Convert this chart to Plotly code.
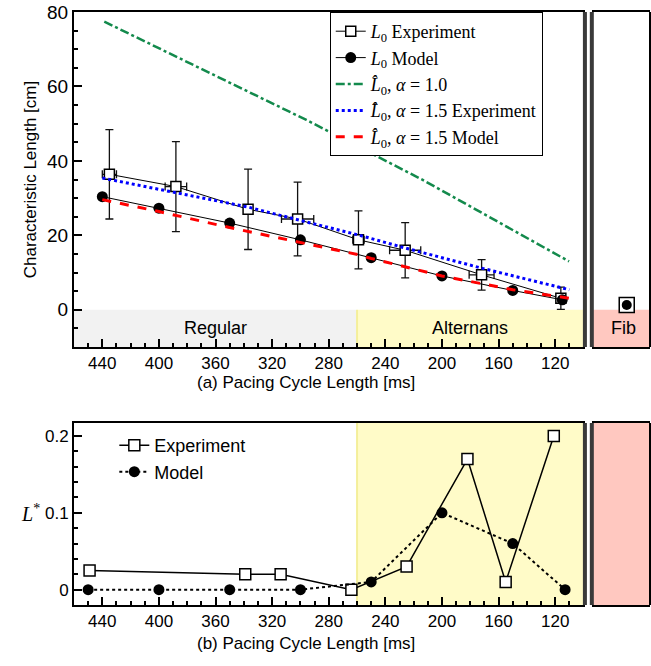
import plotly.graph_objects as go

# top panel: characteristic length vs pacing cycle length
exp_cl = [435, 388, 337, 302, 259, 226, 172, 116]
exp_len = [36.4, 33.1, 27.0, 24.4, 18.8, 16.0, 9.4, 3.1]
exp_len_err = [12.0, 12.1, 10.8, 9.9, 7.8, 7.4, 4.1, 3.0]
exp_cl_err = [5, 7.6, 0, 11.4, 4, 11, 8.8, 0]

mod_cl = [440, 400, 350, 300, 250, 200, 150, 115]
mod_len = [30.4, 27.3, 23.3, 18.8, 14.0, 9.1, 5.2, 2.7]

a10_cl = [438.6, 295.8, 213.6, 110.2]
a10_len = [77.4, 51.0, 34.9, 13.0]

a15e_cl = [440, 388, 337, 302, 259, 226, 172, 110]
a15e_len = [35.4, 31.5, 27.6, 24.2, 20.1, 16.6, 11.2, 5.4]

a15m_cl = [440, 400, 350, 300, 259, 250, 200, 150, 110]
a15m_len = [29.6, 26.4, 22.1, 18.1, 14.8, 13.8, 9.1, 5.4, 3.1]

fib_exp = 1.3
fib_mod = 1.3

# bottom panel: L*
lstar_exp_cl = [449, 339, 314, 264, 225, 182, 155, 121]
lstar_exp = [0.025, 0.02, 0.02, 0.0, 0.03, 0.17, 0.01, 0.2]
lstar_mod_cl = [450, 400, 350, 300, 250, 200, 150, 113]
lstar_mod = [0, 0, 0, 0, 0.01, 0.1, 0.06, 0]

SANS = "Liberation Sans, Arial, sans-serif"
SERIF = "Liberation Serif, Times New Roman, serif"
GRAY_BG = "#f2f2f2"
YELLOW = "#fffbc8"
PINK = "#ffc8c0"
SEP = "#3a3a3a"

fig = go.Figure()

fig.add_trace(go.Scatter(
    x=exp_cl, y=exp_len, mode="lines+markers", name="<i>L</i><sub>0</sub> Experiment",
    line=dict(color="black", width=1),
    marker=dict(symbol="square", size=10, color="white", line=dict(color="black", width=1.5)),
    error_y=dict(type="data", array=exp_len_err, color="#111", thickness=1.3, width=4),
    error_x=dict(type="data", array=exp_cl_err, color="#111", thickness=1.3, width=4),
    xaxis="x", yaxis="y"))
fig.add_trace(go.Scatter(
    x=mod_cl, y=mod_len, mode="lines+markers", name="<i>L</i><sub>0</sub> Model",
    line=dict(color="black", width=1),
    marker=dict(symbol="circle", size=11, color="black"),
    xaxis="x", yaxis="y"))
fig.add_trace(go.Scatter(
    x=a10_cl, y=a10_len, mode="lines", name="<i>L̂</i><sub>0</sub>, <i>α</i> = 1.0",
    line=dict(color="#138a4c", width=2.5, dash="dashdot"), xaxis="x", yaxis="y"))
fig.add_trace(go.Scatter(
    x=a15e_cl, y=a15e_len, mode="lines", name="<i>L̂</i><sub>0</sub>, <i>α</i> = 1.5 Experiment",
    line=dict(color="#0000ff", width=3, dash="dot"), xaxis="x", yaxis="y"))
fig.add_trace(go.Scatter(
    x=a15m_cl, y=a15m_len, mode="lines", name="<i>L̂</i><sub>0</sub>, <i>α</i> = 1.5 Model",
    line=dict(color="#ff0000", width=3, dash="dash"), xaxis="x", yaxis="y"))

# fib point
fig.add_trace(go.Scatter(
    x=[0.6], y=[fib_exp], mode="markers", showlegend=False,
    marker=dict(symbol="square", size=15, color="white", line=dict(color="black", width=1.5)),
    xaxis="x2", yaxis="y2"))
fig.add_trace(go.Scatter(
    x=[0.6], y=[fib_mod], mode="markers", showlegend=False,
    marker=dict(symbol="circle", size=10, color="black"), xaxis="x2", yaxis="y2"))

# bottom panel
fig.add_trace(go.Scatter(
    x=lstar_exp_cl, y=lstar_exp, mode="lines+markers", name="Experiment", legend="legend2",
    line=dict(color="black", width=1.5),
    marker=dict(symbol="square", size=11, color="white", line=dict(color="black", width=1.5)),
    xaxis="x3", yaxis="y3"))
fig.add_trace(go.Scatter(
    x=lstar_mod_cl, y=lstar_mod, mode="lines+markers", name="Model", legend="legend2",
    line=dict(color="black", width=2, dash="dot"),
    marker=dict(symbol="circle", size=11, color="black"),
    xaxis="x3", yaxis="y3"))
# empty trace so the bottom fib subplot gets drawn
fig.add_trace(go.Scatter(x=[None], y=[None], mode="markers", showlegend=False,
                         hoverinfo="skip", xaxis="x4", yaxis="y4"))

main_x = dict(
    range=[460, 99], tickvals=[440, 400, 360, 320, 280, 240, 200, 160, 120],
    ticks="inside", ticklen=8, tickwidth=1.5, tickcolor="black",
    minor=dict(dtick=10, tick0=0, ticks="inside", ticklen=4, tickcolor="black"),
    showline=True, linecolor="black", linewidth=2, mirror=True,
    showgrid=False, zeroline=False, tickfont=dict(family=SANS, size=17, color="black"))
fib_x = dict(range=[0, 1], showticklabels=False, ticks="", showgrid=False, zeroline=False,
             showline=True, linecolor="black", linewidth=2, mirror=True)

fig.update_layout(
    width=651, height=666,
    margin=dict(l=74, r=1, t=12, b=61),
    paper_bgcolor="white", plot_bgcolor="white",
    xaxis=dict(domain=[0, 0.887], anchor="y", **main_x),
    yaxis=dict(domain=[0.435, 1], anchor="x", range=[-10, 80], tickvals=[0, 20, 40, 60, 80],
               ticks="inside", ticklen=8, tickwidth=1.5, tickcolor="black",
               minor=dict(dtick=5, ticks="inside", ticklen=4, tickcolor="black"),
               showline=True, linecolor="black", linewidth=2, showgrid=False, zeroline=False,
               tickfont=dict(family=SANS, size=19, color="black"),
               title=dict(text="Characteristic Length [cm]", standoff=6,
                          font=dict(family=SANS, size=17, color="black"))),
    xaxis2=dict(domain=[0.899, 1], anchor="y2", **fib_x),
    yaxis2=dict(domain=[0.435, 1], anchor="x2", matches="y", showticklabels=False,
                ticks="", showgrid=False, zeroline=False),
    xaxis3=dict(domain=[0, 0.887], anchor="y3", **main_x),
    yaxis3=dict(domain=[0, 0.307], anchor="x3", range=[-0.02, 0.217], tickvals=[0, 0.1, 0.2],
                ticktext=["0", "0.1", "0.2"],
                ticks="inside", ticklen=8, tickwidth=1.5, tickcolor="black",
                minor=dict(dtick=0.02, tick0=0, ticks="inside", ticklen=4, tickcolor="black"),
                showline=True, linecolor="black", linewidth=2, showgrid=False, zeroline=False,
                tickfont=dict(family=SANS, size=17, color="black")),
    xaxis4=dict(domain=[0.899, 1], anchor="y4", **fib_x),
    yaxis4=dict(domain=[0, 0.307], anchor="x4", range=[-0.02, 0.217], showticklabels=False,
                ticks="", showgrid=False, zeroline=False),
    legend=dict(x=0.444, y=1, xanchor="left", yanchor="top", bgcolor="white",
                bordercolor="black", borderwidth=1, tracegroupgap=0,
                font=dict(family=SERIF, size=18, color="black"), itemwidth=30),
    legend2=dict(x=0.07, y=0.30, xanchor="left", yanchor="top", bgcolor="rgba(0,0,0,0)",
                 font=dict(family=SANS, size=18, color="black"), itemwidth=30),
)

shapes = [
    # top regime bands
    dict(type="rect", xref="x", yref="y", x0=460, x1=260, y0=-10, y1=0,
         fillcolor=GRAY_BG, line_width=0, layer="below"),
    dict(type="rect", xref="x", yref="y", x0=260, x1=99, y0=-10, y1=0,
         fillcolor=YELLOW, line_width=0, layer="below"),
    dict(type="line", xref="x", yref="y", x0=260, x1=260, y0=-10, y1=0,
         line=dict(color="#f4ef9a", width=2), layer="below"),
    dict(type="rect", xref="x2", yref="y2", x0=0, x1=1, y0=-10, y1=0,
         fillcolor=PINK, line_width=0, layer="below"),
    # bottom bands
    dict(type="rect", xref="x3", yref="y3 domain", x0=260, x1=99, y0=0, y1=1,
         fillcolor=YELLOW, line_width=0, layer="below"),
    dict(type="line", xref="x3", yref="y3 domain", x0=260, x1=260, y0=0, y1=1,
         line=dict(color="#f4ef9a", width=2), layer="below"),
    dict(type="rect", xref="x4 domain", yref="y4 domain", x0=0, x1=1, y0=0, y1=1,
         fillcolor=PINK, line_width=0, layer="below"),
]
# separator double lines and fib right border
for xr, yr in [("x", "y"), ("x3", "y3")]:
    shapes.append(dict(type="line", xref=f"{xr} domain", yref=f"{yr} domain",
                       x0=1, x1=1, y0=0, y1=1, line=dict(color=SEP, width=4)))
for xr, yr in [("x2", "y2"), ("x4", "y4")]:
    shapes.append(dict(type="line", xref=f"{xr} domain", yref=f"{yr} domain",
                       x0=0, x1=0, y0=0, y1=1, line=dict(color=SEP, width=4)))
    shapes.append(dict(type="line", xref=f"{xr} domain", yref=f"{yr} domain",
                       x0=1, x1=1, y0=0, y1=1, line=dict(color="black", width=2)))
fig.update_layout(shapes=shapes)

ann_font = dict(family=SANS, size=18, color="black")
fig.add_annotation(x=360, y=-5, xref="x", yref="y", text="Regular", showarrow=False, font=ann_font)
fig.add_annotation(x=180, y=-5, xref="x", yref="y", text="Alternans", showarrow=False, font=ann_font)
fig.add_annotation(x=0.55, y=-5, xref="x2", yref="y2", text="Fib", showarrow=False, font=ann_font)
fig.add_annotation(x=0.403, y=0.376, xref="paper", yref="paper", text="(a) Pacing Cycle Length [ms]",
                   showarrow=False, font=dict(family=SANS, size=17, color="black"))
fig.add_annotation(x=0.403, y=-0.084, xref="paper", yref="paper", text="(b) Pacing Cycle Length [ms]",
                   showarrow=False, font=dict(family=SANS, size=17, color="black"))
fig.add_annotation(x=-0.095, y=0.1, xref="paper", yref="y3", text="<i>L</i><sup>*</sup>",
                   showarrow=False, xanchor="left", font=dict(family=SERIF, size=20, color="black"))

# drop the default page margin so the figure fills the window exactly
fig.write_html("out.html", config={"displayModeBar": False}, post_script=(
    "document.body.style.margin='0';"
    "document.body.style.overflow='hidden';"
    "document.documentElement.style.overflow='hidden';"))
